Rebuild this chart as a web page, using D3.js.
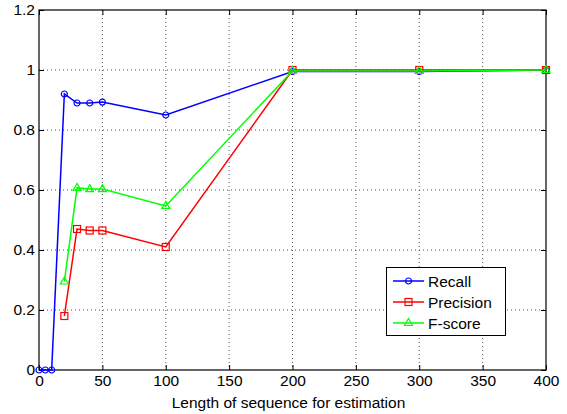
<!DOCTYPE html>
<html><head><meta charset="utf-8">
<script src="https://cdn.jsdelivr.net/npm/d3@7"></script>
<style>body{margin:0;background:#fff}svg{display:block}text{font-family:"Liberation Sans",Arial,sans-serif}</style>
</head><body><svg id="c" width="567" height="414"></svg>
<script>
const recallX = [0,5,10,20,30,40,50,100,200,300,400];
const recallY = [0,0,0,0.92,0.89,0.89,0.893,0.85,0.995,0.995,1.0];
const precX = [20,30,40,50,100,200,300,400];
const precY = [0.18,0.47,0.465,0.465,0.41,1.0,1.0,1.0];
const fX = [20,30,40,50,100,200,300,400];
const fY = [0.295,0.607,0.603,0.603,0.547,0.997,0.997,1.0];
const xTicks = [0,50,100,150,200,250,300,350,400];
const yTicks = [0,0.2,0.4,0.6,0.8,1,1.2];
const seriesNames = ["Recall","Precision","F-score"];
const colors = ["#0000ff","#ff0000","#00ff00"];
const markers = ["circle","square","triangle"];

const svg = d3.select("#c");
const L=39,R=546,T=10,B=370;
const FS=15.5;
const x = d3.scaleLinear().domain([0,400]).range([L,R]);
const y = d3.scaleLinear().domain([0,1.2]).range([B,T]);

// grid
const g = svg.append("g");
g.selectAll(".gx").data(xTicks.slice(1,-1)).enter().append("line")
 .attr("x1",d=>x(d)).attr("x2",d=>x(d)).attr("y1",T).attr("y2",B)
 .attr("stroke","#555").attr("stroke-width",1).attr("stroke-dasharray","1,3");
g.selectAll(".gy").data(yTicks.slice(1,-1)).enter().append("line")
 .attr("y1",d=>y(d)).attr("y2",d=>y(d)).attr("x1",L).attr("x2",R)
 .attr("stroke","#555").attr("stroke-width",1).attr("stroke-dasharray","1,3");

// axes
const ax = svg.append("g").attr("transform",`translate(0,${B})`)
 .call(d3.axisBottom(x).tickValues(xTicks).tickSize(-5).tickPadding(7).tickFormat(d3.format("d")));
const ay = svg.append("g").attr("transform",`translate(${L},0)`)
 .call(d3.axisLeft(y).tickValues(yTicks).tickSize(-5).tickPadding(4).tickFormat(d=>d3.format("~g")(d)));
const at = svg.append("g").attr("transform",`translate(0,${T})`)
 .call(d3.axisTop(x).tickValues(xTicks).tickSize(-5).tickFormat(""));
const ar = svg.append("g").attr("transform",`translate(${R},0)`)
 .call(d3.axisRight(y).tickValues(yTicks).tickSize(-5).tickFormat(""));
[ax,ay,at,ar].forEach(a=>{a.selectAll("path").remove();
 a.selectAll("text").attr("font-size",FS).attr("fill","#000").attr("font-family","Liberation Sans, Arial, sans-serif");
 a.selectAll("line").attr("stroke","#000");});
ax.selectAll("text").attr("dy","0.55em");

svg.append("rect").attr("x",L).attr("y",T).attr("width",R-L).attr("height",B-T)
 .attr("fill","none").attr("stroke","#000").attr("stroke-width",1.2);

svg.append("text").attr("x",(L+R)/2 - 4).attr("y",408).attr("text-anchor","middle")
 .attr("font-size",FS).text("Length of sequence for estimation");

function marker(sel, type, color){
  if(type==="circle") sel.append("circle").attr("r",3).attr("fill","none").attr("stroke",color).attr("stroke-width",1.2);
  else if(type==="square") sel.append("rect").attr("x",-3.5).attr("y",-3.5).attr("width",7).attr("height",7).attr("fill","none").attr("stroke",color).attr("stroke-width",1.2);
  else sel.append("path").attr("d","M0,-4.5L4,2.5L-4,2.5Z").attr("fill","none").attr("stroke",color).attr("stroke-width",1.2);
}

const series = [[recallX,recallY],[precX,precY],[fX,fY]];
const line = d3.line().x(d=>x(d[0])).y(d=>y(d[1]));
series.forEach((s,i)=>{
  const pts = s[0].map((v,j)=>[v,s[1][j]]);
  svg.append("path").datum(pts).attr("d",line).attr("fill","none").attr("stroke",colors[i]).attr("stroke-width",1.5);
  pts.forEach(p=>{
    const m = svg.append("g").attr("transform",`translate(${x(p[0])},${y(p[1])})`);
    marker(m, markers[i], colors[i]);
  });
});

// legend
const lg = svg.append("g");
lg.append("rect").attr("x",386.5).attr("y",267.5).attr("width",119).attr("height",68)
 .attr("fill","#fff").attr("stroke","#000").attr("stroke-width",1);
seriesNames.forEach((n,i)=>{
  const yy = 281 + i*21;
  lg.append("line").attr("x1",393).attr("x2",424).attr("y1",yy).attr("y2",yy).attr("stroke",colors[i]).attr("stroke-width",1.5);
  const m = lg.append("g").attr("transform",`translate(408.5,${yy})`);
  marker(m, markers[i], colors[i]);
  lg.append("text").attr("x",428).attr("y",yy).attr("dy","0.36em").attr("font-size",FS).text(n);
});
</script></body></html>
